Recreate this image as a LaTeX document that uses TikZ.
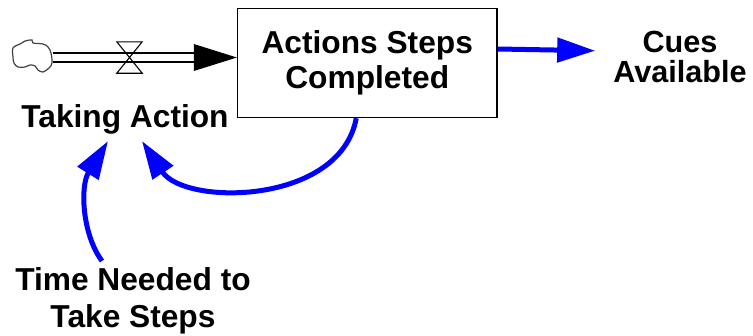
\documentclass[tikz,border=0pt]{standalone}
\usepackage{fontspec}
\setmainfont{Liberation Sans}
\usetikzlibrary{arrows.meta,calc}

\tikzset{
  lbl/.style={inner sep=0pt, align=center, text=black},
  stockbox/.style={draw=black, line width=1.3pt, fill=white, lbl,
    minimum width=259.5pt, minimum height=109pt},
  pipe/.style={draw=black, line width=1.3pt},
  link/.style={draw=blue, line width=5pt,
    -{Triangle[length=38pt,width=24pt]}},
}
% bold label font: size and line spacing
\newcommand{\lblfont}[2]{\bfseries\fontsize{#1}{#2}\selectfont}

\begin{document}
\begin{tikzpicture}[x=1pt,y=-1pt]
\useasboundingbox (0,0) rectangle (753,335);

% stock and variable labels
\node[stockbox, font=\lblfont{31.7}{35}] (box) at (367.25,63) {Actions Steps\\Completed};
\node[lbl, anchor=north, font=\lblfont{30.6}{30}] (cues) at (680,30.7) {Cues\\Available};
\node[lbl, anchor=north, font=\lblfont{31.7}{35}] (take) at (125,104) {Taking Action};
\node[lbl, anchor=north, font=\lblfont{31.7}{37}] (time) at (133,267) {Time Needed to\\Take Steps};

% source cloud
\node[inner sep=0pt, minimum width=40pt, minimum height=33pt] (cloud) at (32.5,56.5) {};
\draw[draw=black!75, line width=1.2pt, shift={(cloud.center)}]
  plot[smooth cycle, tension=0.6] coordinates {
    (-19.5,-8.5) (-12.5,-12.5) (-7.5,-15.5) (-0.5,-16.5) (0.5,-13.5)
    (10.5,-12.5) (15.5,-9.5) (18.5,-3.5) (19.5,6.5) (16.5,11.5)
    (10.5,15.5) (5.5,13.5) (2.5,9.5) (-2.5,8.5) (-7.5,10.5)
    (-14.5,10.5) (-18.5,6.5) (-19.5,0.5)};

% flow pipe into the stock
\coordinate (pipeEnd) at ($(box.west)+(0,-5.5)$);
\coordinate (headBase) at ($(pipeEnd)+(-43,0)$);
\draw[pipe] ($(cloud.east |- pipeEnd)+(0,-4.5)$) -- ($(headBase)+(1,-4.5)$);
\draw[pipe] ($(cloud.east |- pipeEnd)+(0,4.5)$) -- ($(headBase)+(1,4.5)$);
\fill[black] (pipeEnd) -- ($(headBase)+(0,-13.5)$) -- ($(headBase)+(0,13.5)$) -- cycle;

% valve
\node[inner sep=0pt, minimum width=25pt, minimum height=31pt] (valve) at (129.5,57.5) {};
\draw[line width=1.1pt] (valve.north west) -- (valve.north east)
  -- (valve.south west) -- (valve.south east) -- cycle;

% causal links
\draw[link] ($(box.east)+(0,-14)$) -- ($(cues.west)+(-18,-6)$);
\draw[link] ($(box.south)+(-11,0)$)
  .. controls ($(box.south)+(-27,87)$) and ($(take.south)+(60,72)$)
  .. ($(take.south)+(17,7)$);
\draw[link] ($(time.north)+(-31,-6)$)
  .. controls ($(time.north)+(-51,-33)$) and ($(take.south)+(-45,52)$)
  .. ($(take.south)+(-17,7)$);
\end{tikzpicture}
\end{document}
